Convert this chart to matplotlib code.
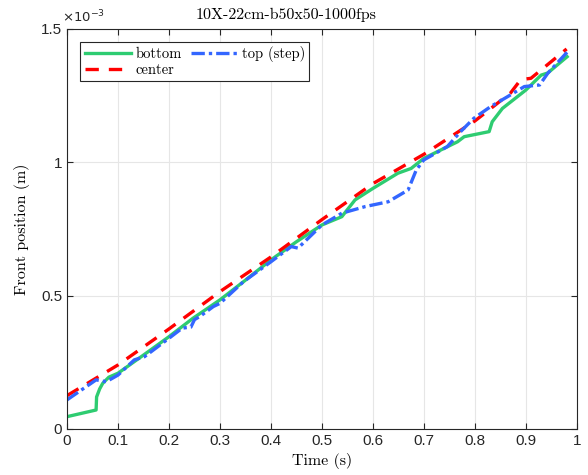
import matplotlib as mpl
mpl.use('Agg')
import matplotlib.pyplot as plt
import numpy as np

# front position data (x1e-3 m)
t_bottom = [0, 0.057, 0.058, 0.064, 0.070, 0.082, 0.1, 0.15, 0.2, 0.247, 0.3, 0.346, 0.4, 0.45,
            0.5, 0.539, 0.565, 0.6, 0.649, 0.675, 0.7, 0.766, 0.779, 0.828, 0.834, 0.854, 0.9,
            0.93, 0.943, 0.981]
y_bottom = [0.046, 0.071, 0.12, 0.15, 0.171, 0.194, 0.209, 0.277, 0.346, 0.415, 0.484, 0.552,
            0.634, 0.702, 0.765, 0.796, 0.859, 0.902, 0.959, 0.977, 1.015, 1.077, 1.096, 1.115,
            1.152, 1.202, 1.271, 1.327, 1.335, 1.396]

t_top = [0, 0.057, 0.077, 0.1, 0.132, 0.152, 0.2, 0.226, 0.243, 0.25, 0.26, 0.287, 0.3, 0.346,
         0.4, 0.44, 0.453, 0.5, 0.539, 0.585, 0.63, 0.669, 0.685, 0.7, 0.746, 0.772, 0.798,
         0.831, 0.864, 0.897, 0.927, 0.943, 0.982]
y_top = [0.109, 0.184, 0.177, 0.202, 0.259, 0.271, 0.340, 0.378, 0.382, 0.41, 0.421, 0.459,
         0.471, 0.552, 0.627, 0.684, 0.678, 0.765, 0.809, 0.834, 0.852, 0.896, 0.971, 1.009,
         1.059, 1.115, 1.165, 1.209, 1.246, 1.284, 1.29, 1.334, 1.415]

t_center = [0, 0.1, 0.2, 0.3, 0.4, 0.5, 0.6, 0.7, 0.8, 0.87, 0.89, 0.91, 0.98]
y_center = [0.125, 0.24, 0.375, 0.515, 0.645, 0.785, 0.92, 1.03, 1.155, 1.26, 1.31, 1.315, 1.425]

serif = 'cmr10'
plt.rcParams['font.family'] = ['Liberation Sans', 'DejaVu Sans']

fig = plt.figure(figsize=(5.88, 4.75), dpi=100)
ax = fig.add_axes([0.114, 0.097, 0.867, 0.842])

s = 1e-3
ax.plot(t_bottom, np.array(y_bottom) * s, color='#2ecc71', lw=2.4, label='bottom')
ax.plot(t_center, np.array(y_center) * s, color='#ff0000', lw=2.4, ls=(0, (4, 3)), label='center')
ax.plot(t_top, np.array(y_top) * s, color='#3366ff', lw=2.4, ls=(0, (4, 1.2, 1, 1.2)), label='top (step)')

ax.set_xlim(0, 1)
ax.set_ylim(0, 1.5e-3)
ax.set_xticks(np.arange(0, 1.01, 0.1))
ax.set_xticklabels(['0', '0.1', '0.2', '0.3', '0.4', '0.5', '0.6', '0.7', '0.8', '0.9', '1'])
ax.set_yticks([0, 0.5e-3, 1e-3, 1.5e-3])
ax.set_yticklabels(['0', '0.5', '1', '1.5'])
ax.tick_params(direction='in', top=True, right=True, labelsize=11, colors='#262626', length=4)
ax.grid(True, color='#e6e6e6', lw=0.8)
ax.set_axisbelow(True)
for sp in ax.spines.values():
    sp.set_color('#262626')

ax.text(-0.01, 1.01, r'$\times10^{-3}$', transform=ax.transAxes, fontsize=9.5, color='#262626',
        ha='left', va='bottom')
ax.set_title('10X-22cm-b50x50-1000fps', family=serif, fontsize=11.5, pad=7, x=0.43)
ax.set_xlabel('Time (s)', family=serif, fontsize=11.5, labelpad=4)
ax.set_ylabel('Front position (m)', family=serif, fontsize=11.5, labelpad=8)

leg = ax.legend(loc='upper left', ncol=2, prop={'family': serif, 'size': 10.5}, fancybox=False,
                edgecolor='#262626', framealpha=1, handlelength=3.2, handletextpad=0.3,
                columnspacing=0.6, labelspacing=0.1, borderpad=0.3, borderaxespad=0.9)
leg.get_frame().set_linewidth(0.8)

fig.savefig('out.png', dpi=100)
